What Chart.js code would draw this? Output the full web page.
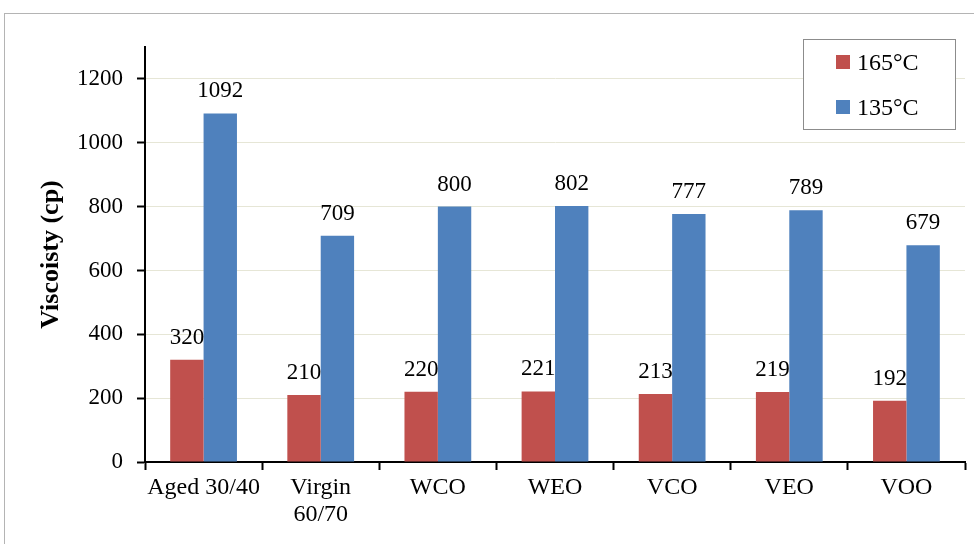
<!DOCTYPE html>
<html lang="en">
<head>
    <meta charset="UTF-8">
    <title>Viscosity</title>
    <script src="https://cdn.jsdelivr.net/npm/chart.js"></script>
    <style>
        body { margin: 0; background: #fff; }
        #wrap { position: relative; width: 974px; height: 544px; overflow: hidden; }
        #frame { position: absolute; left: 4px; top: 13px; width: 1000px; height: 600px; border: 1px solid #b4b4b4; }
        canvas { position: absolute; left: 0; top: 0; }
    </style>
</head>
<body>
<div id="wrap">
    <div id="frame"></div>
    <canvas id="chart" width="974" height="544"></canvas>
</div>
<script>
// data
const categories = ['Aged 30/40', ['Virgin', '60/70'], 'WCO', 'WEO', 'VCO', 'VEO', 'VOO'];
const series165 = [320, 210, 220, 221, 213, 219, 192];
const series135 = [1092, 709, 800, 802, 777, 789, 679];
const seriesNames = ['165°C', '135°C'];
const yTicks = [0, 200, 400, 600, 800, 1000, 1200];

const RED = '#C0504D';
const BLUE = '#4F81BD';
const FONT = "'Liberation Serif', 'Times New Roman', serif";

// value labels above each bar
const barLabels = {
    id: 'barLabels',
    afterDatasetsDraw(chart) {
        const ctx = chart.ctx;
        ctx.save();
        ctx.font = '23px ' + FONT;
        ctx.fillStyle = '#000';
        ctx.textAlign = 'center';
        ctx.textBaseline = 'alphabetic';
        chart.data.datasets.forEach((ds, i) => {
            chart.getDatasetMeta(i).data.forEach((bar, j) => {
                ctx.fillText(String(ds.data[j]), bar.x, bar.y - 16);
            });
        });
        ctx.restore();
    }
};

// boxed legend in the upper right
const boxLegend = {
    id: 'boxLegend',
    afterDraw(chart) {
        const ctx = chart.ctx;
        ctx.save();
        ctx.fillStyle = '#fff';
        ctx.fillRect(803, 39, 152, 90);
        ctx.strokeStyle = '#8c8c8c';
        ctx.lineWidth = 1;
        ctx.strokeRect(803.5, 39.5, 152, 90);
        ctx.font = '24px ' + FONT;
        ctx.textBaseline = 'alphabetic';
        const colors = [RED, BLUE];
        const rows = [62, 107];
        seriesNames.forEach((name, i) => {
            ctx.fillStyle = colors[i];
            ctx.fillRect(836, rows[i] - 7, 14, 14);
            ctx.fillStyle = '#000';
            ctx.fillText(name, 857, rows[i] + 8);
        });
        ctx.restore();
    }
};

new Chart(document.getElementById('chart'), {
    type: 'bar',
    data: {
        labels: categories,
        datasets: [
            { label: seriesNames[0], data: series165, backgroundColor: RED },
            { label: seriesNames[1], data: series135, backgroundColor: BLUE }
        ]
    },
    options: {
        responsive: false,
        animation: false,
        layout: { padding: { left: 0, top: 47, right: 9, bottom: 0 } },
        datasets: { bar: { categoryPercentage: 0.57, barPercentage: 1.0 } },
        plugins: {
            legend: { display: false },
            tooltip: { enabled: false }
        },
        scales: {
            x: {
                grid: { drawOnChartArea: false, tickLength: 8, tickColor: '#000', tickWidth: 2, offset: true },
                border: { color: '#000', width: 2 },
                ticks: { color: '#000', font: { family: FONT, size: 24, lineHeight: 1.1 }, padding: 5, maxRotation: 0, autoSkip: false },
                afterFit(scale) { scale.height = 82; }
            },
            y: {
                min: 0,
                max: 1300,
                afterBuildTicks(scale) { scale.ticks = yTicks.concat([1300]).map(v => ({ value: v })); },
                grid: {
                    color: ctx => ctx.tick && ctx.tick.value === 1300 ? 'rgba(0,0,0,0)' : '#e6e6d6',
                    tickColor: ctx => ctx.tick && ctx.tick.value === 1300 ? 'rgba(0,0,0,0)' : '#000',
                    tickLength: 8,
                    tickWidth: 2
                },
                border: { color: '#000', width: 2 },
                ticks: {
                    color: '#000',
                    font: { family: FONT, size: 23 },
                    padding: 14,
                    callback: v => v === 1300 ? '' : v
                },
                title: {
                    display: true,
                    text: 'Viscoisty (cp)',
                    color: '#000',
                    font: { family: FONT, size: 26, weight: 'bold' },
                    padding: { top: 36 }
                },
                afterFit(scale) { scale.width = 145; }
            }
        }
    },
    plugins: [barLabels, boxLegend]
});
</script>
</body>
</html>
